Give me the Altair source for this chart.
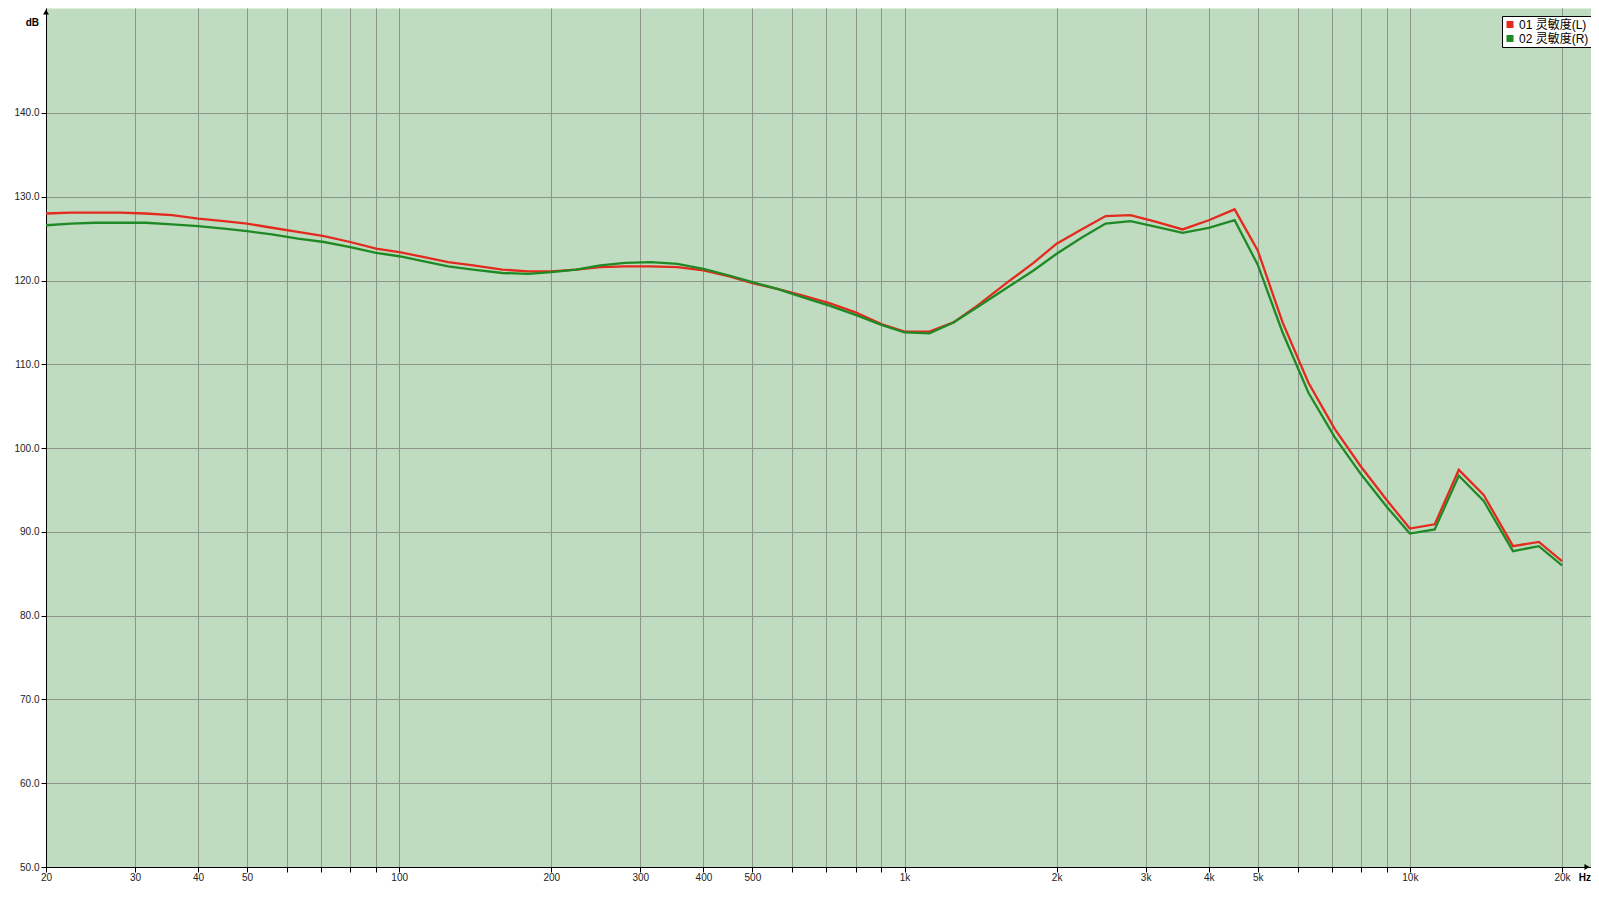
import altair as alt
import pandas as pd

# ---------------- data ----------------
freqs = [20, 22.4, 25, 28, 31.5, 35.5, 40, 45, 50, 56, 63, 71, 80, 90, 100,
         112, 125, 140, 160, 180, 200, 224, 250, 280, 315, 355, 400, 450, 500,
         560, 630, 710, 800, 900, 1000, 1120, 1250, 1400, 1600, 1800, 2000,
         2240, 2500, 2800, 3150, 3550, 4000, 4500, 5000, 5600, 6300, 7100,
         8000, 9000, 10000, 11200, 12500, 14000, 16000, 18000, 20000]

left_db = [128.0, 128.1, 128.1, 128.1, 128.0, 127.8, 127.4, 127.1, 126.8, 126.3,
           125.8, 125.3, 124.6, 123.8, 123.4, 122.8, 122.2, 121.8, 121.3, 121.1,
           121.1, 121.3, 121.6, 121.7, 121.7, 121.6, 121.2, 120.5, 119.7, 119.0,
           118.2, 117.3, 116.2, 114.8, 113.9, 113.9, 115.0, 117.1, 119.8, 122.1,
           124.4, 126.1, 127.7, 127.8, 127.0, 126.1, 127.2, 128.5, 123.6, 115.0,
           107.8, 102.3, 97.8, 93.8, 90.4, 90.9, 97.4, 94.4, 88.3, 88.8, 86.5]

right_db = [126.6, 126.8, 126.9, 126.9, 126.9, 126.7, 126.5, 126.2, 125.9, 125.5,
            125.0, 124.6, 124.0, 123.3, 122.9, 122.3, 121.7, 121.3, 120.9, 120.8,
            121.0, 121.3, 121.8, 122.1, 122.2, 122.0, 121.4, 120.6, 119.8, 119.0,
            118.0, 117.0, 115.9, 114.7, 113.8, 113.7, 115.0, 116.9, 119.2, 121.2,
            123.2, 125.1, 126.8, 127.1, 126.4, 125.7, 126.3, 127.2, 121.9, 113.8,
            106.6, 101.3, 96.9, 93.0, 89.8, 90.3, 96.7, 93.7, 87.7, 88.3, 86.0]

series_names = ["01 灵敏度(L)", "02 灵敏度(R)"]
series_colors = ["#e32a1f", "#1f8a25"]

x_ticks = [20, 30, 40, 50, 60, 70, 80, 90,
           100, 200, 300, 400, 500, 600, 700, 800, 900,
           1000, 2000, 3000, 4000, 5000, 6000, 7000, 8000, 9000,
           10000, 20000]
x_tick_labels = {20: "20", 30: "30", 40: "40", 50: "50", 100: "100", 200: "200",
                 300: "300", 400: "400", 500: "500", 1000: "1k", 2000: "2k",
                 3000: "3k", 4000: "4k", 5000: "5k", 10000: "10k", 20000: "20k"}
y_ticks = [50, 60, 70, 80, 90, 100, 110, 120, 130, 140]

x_domain = [20, 22830]
y_domain = [50, 152.53]

# ---------------- layout ----------------
W, H = 1545, 859
FONT = "Liberation Sans, Arial, Noto Sans CJK SC"
GRID = "#8a968a"

rows = []
for f, l, r in zip(freqs, left_db, right_db):
    rows.append({"freq": f, "spl": l, "ch": series_names[0]})
    rows.append({"freq": f, "spl": r, "ch": series_names[1]})
df = pd.DataFrame(rows)

label_expr = " : ".join(f"datum.value == {v} ? '{t}'" for v, t in x_tick_labels.items()) + " : ''"

x_axis = alt.Axis(values=x_ticks, labelExpr=label_expr, title=None, grid=True,
                  gridColor=GRID, gridWidth=1, domainColor="black", domainWidth=1,
                  tickColor="black", tickSize=5, labelPadding=0, labelFontSize=10,
                  labelFont=FONT, labelColor="#222222", labelOverlap=False,
                  labelFlush=False)
y_axis = alt.Axis(values=y_ticks, format=".1f", title=None, grid=True,
                  gridColor=GRID, gridWidth=1, domainColor="black", domainWidth=1,
                  tickColor="black", tickSize=5, labelPadding=2, labelFontSize=10,
                  labelFont=FONT, labelColor="#222222", labelOverlap=False)

legend = alt.Legend(title=None, orient="none", legendX=1456, legendY=8,
                    fillColor="white", strokeColor="black", padding=2,
                    symbolType="square", symbolSize=1, symbolStrokeWidth=6,
                    labelFont=FONT, labelFontSize=12, labelColor="black",
                    labelOffset=3, rowPadding=1, symbolOffset=0, clipHeight=13)

lines = alt.Chart(df).mark_line(strokeWidth=2.3, clip=True).encode(
    x=alt.X("freq:Q", scale=alt.Scale(type="log", domain=x_domain, nice=False), axis=x_axis),
    y=alt.Y("spl:Q", scale=alt.Scale(domain=y_domain, nice=False, zero=False), axis=y_axis),
    color=alt.Color("ch:N", scale=alt.Scale(domain=series_names, range=series_colors),
                    legend=legend),
    order=alt.Order("freq:Q"),
)

one = alt.Data(values=[{"k": 1}])

up_arrow = alt.Chart(one).mark_point(shape="triangle-up", filled=True, size=35,
                                     color="black", opacity=1).encode(
    x=alt.value(0), y=alt.value(4))
right_arrow = alt.Chart(one).mark_point(shape="triangle-right", filled=True, size=35,
                                        color="black", opacity=1).encode(
    x=alt.value(W - 4), y=alt.value(H))

db_text = alt.Chart(one).mark_text(text="dB", font=FONT, fontSize=10, fontWeight="bold",
                                   align="right", baseline="middle", color="black").encode(
    x=alt.value(-7), y=alt.value(15))
hz_text = alt.Chart(one).mark_text(text="Hz", font=FONT, fontSize=10, fontWeight="bold",
                                   align="right", baseline="middle", color="black").encode(
    x=alt.value(W), y=alt.value(H + 11))

chart = alt.layer(lines, up_arrow, right_arrow, db_text, hz_text).properties(
    width=W, height=H,
    autosize=alt.AutoSizeParams(type="none"),
    padding={"left": 38, "top": 0, "right": 0, "bottom": 19},
    background="white",
).configure_view(fill="#c0dcc0", stroke="transparent")

chart.save("out.html", embed_options={"renderer": "svg", "actions": False})
